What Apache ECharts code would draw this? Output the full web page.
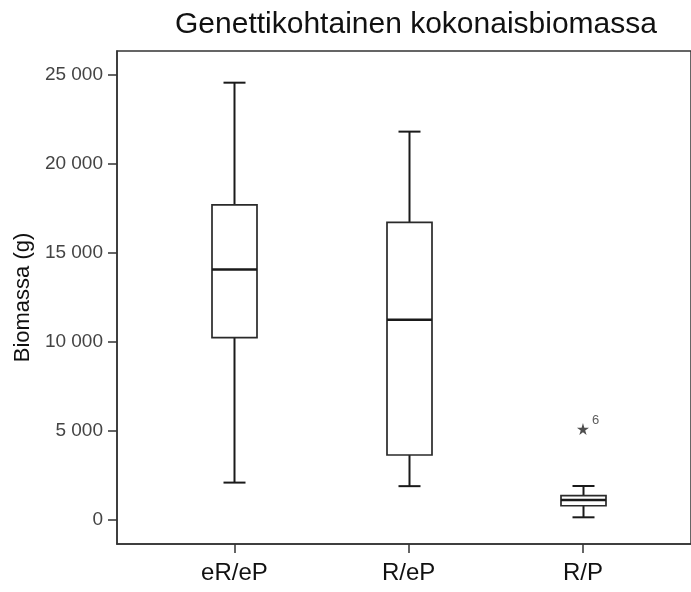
<!DOCTYPE html>
<html>
<head>
<meta charset="utf-8">
<script src="https://cdn.jsdelivr.net/npm/echarts@6/dist/echarts.min.js"></script>
<style>
  html, body { margin: 0; padding: 0; background: #fff; }
  #chart { width: 691px; height: 592px; }
</style>
</head>
<body>
<div id="chart"></div>
<script>
// ryhmät (x-akselin luokat)
var categories = ['eR/eP', 'R/eP', 'R/P'];
// laatikkokuvion tunnusluvut, grammoina
var mins    = [2100, 1900, 150];
var q1s     = [10250, 3650, 800];
var medians = [14080, 11250, 1120];
var q3s     = [17700, 16720, 1370];
var maxs    = [24570, 21820, 1910];
// poikkeava havainto: [ryhmän indeksi, arvo, tunniste]
var outliers = [[2, 5110, '6']];
// y-akselin jakoviivat
var yTicks = [0, 5000, 10000, 15000, 20000, 25000];

var positions = categories.map(function (c, i) { return i + 1; });

var boxData = categories.map(function (c, i) {
    return [positions[i], mins[i], q1s[i], medians[i], q3s[i], maxs[i]];
});

var outlierData = outliers.map(function (o) {
    return { value: [positions[o[0]], o[1]], label: { formatter: o[2] } };
});

// tuhaterottimena välilyönti
function fmt(v) {
    return String(v).replace(/\B(?=(\d{3})+(?!\d))/g, ' ');
}

var BOX_W = 45;
var CAP_W = 22;
var INK = '#1a1a1a';

function renderBox(params, api) {
    var x = api.value(0);
    var pMin = api.coord([x, api.value(1)]);
    var pQ1 = api.coord([x, api.value(2)]);
    var pMed = api.coord([x, api.value(3)]);
    var pQ3 = api.coord([x, api.value(4)]);
    var pMax = api.coord([x, api.value(5)]);
    var cx = Math.round(pMed[0]) + 0.5;
    var hb = BOX_W / 2, hc = CAP_W / 2;
    var thick = { stroke: INK, lineWidth: 2 };
    var thin = { stroke: '#2a2a2a', lineWidth: 1.7, fill: '#fff' };
    return {
        type: 'group',
        children: [
            { type: 'line', shape: { x1: cx, y1: pMax[1], x2: cx, y2: pQ3[1] }, style: thick },
            { type: 'line', shape: { x1: cx, y1: pQ1[1], x2: cx, y2: pMin[1] }, style: thick },
            { type: 'line', shape: { x1: cx - hc, y1: pMax[1], x2: cx + hc, y2: pMax[1] }, style: thick },
            { type: 'line', shape: { x1: cx - hc, y1: pMin[1], x2: cx + hc, y2: pMin[1] }, style: thick },
            { type: 'rect', shape: { x: cx - hb, y: pQ3[1], width: BOX_W, height: pQ1[1] - pQ3[1] }, style: thin },
            { type: 'line', shape: { x1: cx - hb, y1: pMed[1], x2: cx + hb, y2: pMed[1] }, style: { stroke: INK, lineWidth: 2.5 } }
        ]
    };
}

var chart = echarts.init(document.getElementById('chart'), null, { renderer: 'canvas' });

chart.setOption({
    animation: false,
    backgroundColor: '#fff',
    textStyle: { fontFamily: 'Liberation Sans, Arial, sans-serif' },
    title: {
        text: 'Genettikohtainen kokonaisbiomassa',
        left: 411,
        top: 5,
        textAlign: 'center',
        textStyle: { fontSize: 30, fontWeight: 'normal', color: '#111' }
    },
    grid: {
        left: 117, right: -3, top: 51, bottom: 48,
        show: true, borderColor: '#333', borderWidth: 1.5
    },
    xAxis: {
        type: 'value',
        min: 0.326,
        max: 3.62,
        splitLine: { show: false },
        axisLine: { onZero: false, lineStyle: { color: '#333', width: 1.5 } },
        axisTick: { customValues: positions, length: 9, lineStyle: { color: '#333', width: 1.5 } },
        axisLabel: {
            customValues: positions,
            margin: 17,
            fontSize: 24,
            color: '#111',
            formatter: function (v) { return categories[Math.round(v) - 1]; }
        }
    },
    yAxis: {
        type: 'value',
        min: -1350,
        max: 26350,
        name: 'Biomassa (g)',
        nameLocation: 'middle',
        nameGap: 79,
        nameTextStyle: { fontSize: 22, color: '#111' },
        splitLine: { show: false },
        axisLine: { onZero: false, lineStyle: { color: '#333', width: 1.5 } },
        axisTick: { customValues: yTicks, length: 9, lineStyle: { color: '#333', width: 1.5 } },
        axisLabel: {
            customValues: yTicks,
            margin: 14,
            fontSize: 19,
            color: '#444',
            formatter: fmt
        }
    },
    series: [
        {
            type: 'custom',
            data: boxData,
            renderItem: renderBox,
            encode: { x: 0, y: [1, 2, 3, 4, 5] },
            z: 3
        },
        {
            type: 'scatter',
            data: outlierData,
            symbol: 'path://M50,0 L61,35 L98,35 L68,57 L79,91 L50,70 L21,91 L32,57 L2,35 L39,35 Z',
            symbolSize: 12,
            itemStyle: { color: '#222' },
            label: {
                show: true,
                position: 'right',
                offset: [-2, -9],
                fontSize: 13,
                color: '#333'
            },
            z: 4
        }
    ]
});
</script>
</body>
</html>
